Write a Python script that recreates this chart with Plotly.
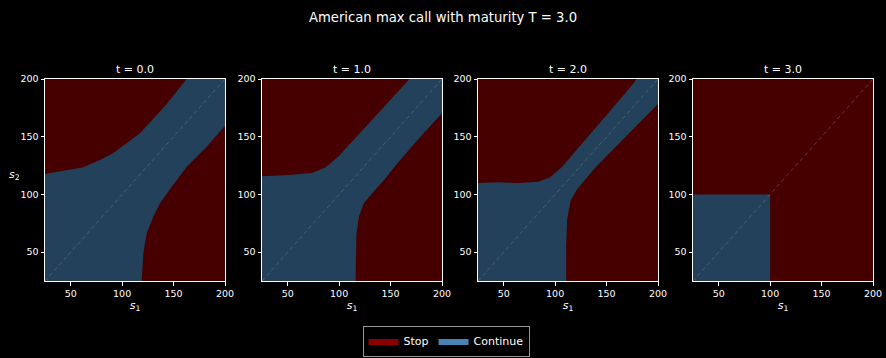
import plotly.graph_objects as go

# Exercise boundaries of an American max call on two assets, T = 3.0
times = [0.0, 1.0, 2.0, 3.0]
s_min, s_max = 25, 200
tick_vals = [50, 100, 150, 200]

# Lower-right stop boundary (asset 1 dominant), from the bottom edge outwards
t0_lower_s1 = [119.0, 120.6, 123.9, 130.3, 136.8, 148.2, 162.8, 182.2, 200.0]
t0_lower_s2 = [25.0, 49.0, 66.3, 80.7, 92.3, 106.7, 124.0, 141.4, 159.5]
t1_lower_s1 = [115.9, 116.3, 116.9, 119.2, 124.0, 132.2, 143.6, 156.7, 176.2, 200.0]
t1_lower_s2 = [25.0, 45.0, 66.3, 80.7, 92.3, 101.0, 112.5, 127.0, 147.2, 170.3]
t2_lower_s1 = [110.7, 110.7, 111.7, 115.0, 121.5, 139.4, 172.0, 200.0]
t2_lower_s2 = [25.0, 55.6, 78.7, 94.6, 104.7, 123.5, 152.6, 178.3]
t3_lower_s1 = [100.0, 100.0, 200.0]
t3_lower_s2 = [25.0, 100.0, 200.0]

# Upper-left stop boundary (asset 2 dominant), from the left edge outwards
t0_upper_s1 = [25.0, 62.3, 78.5, 91.4, 107.6, 117.4, 130.3, 143.3, 162.7]
t0_upper_s2 = [117.7, 123.5, 129.8, 135.9, 146.6, 153.0, 165.3, 178.3, 200.0]
t1_upper_s1 = [25.0, 51.1, 73.9, 86.9, 100.0, 116.2, 139.1, 168.4]
t1_upper_s2 = [115.7, 116.8, 118.6, 123.5, 133.6, 149.5, 171.2, 200.0]
t2_upper_s1 = [25.0, 44.6, 64.1, 83.7, 95.1, 106.4, 122.8, 171.7, 179.5]
t2_upper_s2 = [109.9, 110.5, 109.9, 111.0, 114.8, 123.5, 140.8, 191.3, 200.0]
t3_upper_s1 = [25.0, 100.0, 200.0]
t3_upper_s2 = [100.0, 100.0, 200.0]

lower = [(t0_lower_s1, t0_lower_s2), (t1_lower_s1, t1_lower_s2),
         (t2_lower_s1, t2_lower_s2), (t3_lower_s1, t3_lower_s2)]
upper = [(t0_upper_s1, t0_upper_s2), (t1_upper_s1, t1_upper_s2),
         (t2_upper_s1, t2_upper_s2), (t3_upper_s1, t3_upper_s2)]

STOP_FILL = "rgb(70,0,0)"
CONT_FILL = "rgb(35,65,90)"
STOP_KEY = "rgb(139,0,0)"
CONT_KEY = "rgb(70,130,180)"
FONT = "DejaVu Sans"

W, H = 886, 358
panel_left = [45, 262, 478, 693]
panel_w = 180
plot_top, plot_bottom = 79, 281

fig = go.Figure()

for i, t in enumerate(times):
    ax = "" if i == 0 else str(i + 1)
    xref, yref = "x" + ax, "y" + ax
    lx, ly = lower[i]
    ux, uy = upper[i]

    # stop region below the diagonal
    fig.add_trace(go.Scatter(
        x=list(lx) + [s_max], y=list(ly) + [s_min], fill="toself",
        fillcolor=STOP_FILL, mode="lines", line=dict(width=0),
        showlegend=False, hoverinfo="skip", xaxis=xref, yaxis=yref))
    # stop region above the diagonal
    fig.add_trace(go.Scatter(
        x=list(ux) + [s_min], y=list(uy) + [s_max], fill="toself",
        fillcolor=STOP_FILL, mode="lines", line=dict(width=0),
        showlegend=False, hoverinfo="skip", xaxis=xref, yaxis=yref))
    # continuation region between the two boundaries
    cx = [s_min] + list(lx) + [s_max] + list(ux)[::-1]
    cy = [s_min] + list(ly) + [s_max] + list(uy)[::-1]
    fig.add_trace(go.Scatter(
        x=cx, y=cy, fill="toself", fillcolor=CONT_FILL, mode="lines",
        line=dict(width=0), showlegend=False, hoverinfo="skip",
        xaxis=xref, yaxis=yref))
    # diagonal s1 = s2
    fig.add_trace(go.Scatter(
        x=[s_min, s_max], y=[s_min, s_max], mode="lines",
        line=dict(color="rgba(140,140,140,0.5)", width=0.8, dash="4px,3px"),
        showlegend=False, hoverinfo="skip", xaxis=xref, yaxis=yref))

    x0 = panel_left[i] / W
    x1 = (panel_left[i] + panel_w) / W
    axis_common = dict(
        range=[s_min, s_max], tickvals=tick_vals, showgrid=False,
        zeroline=False, showline=True, mirror=True, linecolor="white",
        linewidth=1, ticks="outside", ticklen=3.5, tickcolor="white",
        automargin=False,
        tickfont=dict(family=FONT, size=9.5, color="white"))
    fig.layout["xaxis" + ax] = dict(
        domain=[x0, x1], anchor=yref,
        title=dict(text="<i>s</i><sub>1</sub>", standoff=3,
                   font=dict(family=FONT, size=11, color="white")),
        **axis_common)
    fig.layout["yaxis" + ax] = dict(
        domain=[1 - plot_bottom / H, 1 - plot_top / H], anchor=xref,
        **axis_common)

    fig.add_annotation(
        text=f"t = {t:.1f}", xref="paper", yref="paper",
        x=(x0 + x1) / 2, y=1 - plot_top / H, xanchor="center",
        yanchor="bottom", yshift=1, showarrow=False,
        font=dict(family=FONT, size=11, color="white"))

# y label on the first panel only
fig.add_annotation(
    text="<i>s</i><sub>2</sub>", xref="paper", yref="paper",
    x=14 / W, y=1 - 175 / H, xanchor="center", yanchor="middle",
    showarrow=False, font=dict(family=FONT, size=11, color="white"))

# legend keys
fig.add_trace(go.Scatter(
    x=[None], y=[None], name="Stop", fill="toself", fillcolor=STOP_KEY,
    mode="lines", line=dict(width=0), hoverinfo="skip"))
fig.add_trace(go.Scatter(
    x=[None], y=[None], name="Continue", fill="toself", fillcolor=CONT_KEY,
    mode="lines", line=dict(width=0), hoverinfo="skip"))

fig.update_layout(
    width=W, height=H,
    margin=dict(l=0, r=0, t=0, b=0, autoexpand=False),
    paper_bgcolor="black", plot_bgcolor=STOP_FILL,
    title=dict(text="American max call with maturity T = 3.0",
               x=0.5, xanchor="center", y=1 - 17 / H, yanchor="middle",
               font=dict(family=FONT, size=13.2, color="white")),
    legend=dict(orientation="h", x=446 / W, y=1 - 341 / H,
                xanchor="center", yanchor="middle", bgcolor="black",
                bordercolor="rgb(150,150,150)", borderwidth=1,
                font=dict(family=FONT, size=11, color="white")),
    showlegend=True,
)

fig.write_html("out.html")
